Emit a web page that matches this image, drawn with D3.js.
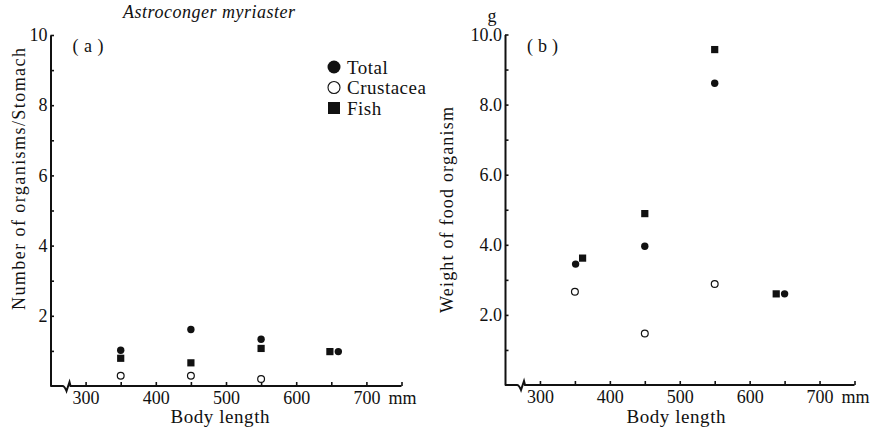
<!DOCTYPE html>
<html>
<head>
<meta charset="utf-8">
<script src="https://cdn.jsdelivr.net/npm/d3@7"></script>
<style>
  body { margin: 0; background: #fff; }
  svg text { font-family: "Liberation Serif", "Times New Roman", serif; fill: #111; }
</style>
</head>
<body>
<div id="chart"></div>
<script>
// (a) number of organisms per stomach
const totalA = [{len: 350, v: 1.02}, {len: 450, v: 1.61}, {len: 550, v: 1.33}, {len: 660, v: 0.98}];
const fishA  = [{len: 350, v: 0.79}, {len: 450, v: 0.66}, {len: 550, v: 1.07}, {len: 648, v: 0.98}];
const crustA = [{len: 350, v: 0.29}, {len: 450, v: 0.29}, {len: 550, v: 0.20}];

// (b) weight of food organism (g)
const totalB = [{len: 351, v: 3.45}, {len: 450, v: 3.96}, {len: 550, v: 8.61}, {len: 650, v: 2.60}];
const fishB  = [{len: 361, v: 3.62}, {len: 450, v: 4.89}, {len: 550, v: 9.57}, {len: 638, v: 2.60}];
const crustB = [{len: 350, v: 2.66}, {len: 450, v: 1.47}, {len: 550, v: 2.88}];

const xTicks = [300, 350, 400, 450, 500, 550, 600, 650, 700, 750];
const xLabels = [300, 400, 500, 600, 700];
const yTicks = [1, 2, 3, 4, 5, 6, 7, 8, 9, 10];
const yLabels = [2, 4, 6, 8, 10];
const legendItems = ["Total", "Crustacea", "Fish"];

const svg = d3.select("#chart").append("svg")
  .attr("width", 872)
  .attr("height", 430);

function drawPanel(opts) {
  const x = d3.scaleLinear().domain([250, 750]).range(opts.xRange);
  const y = d3.scaleLinear().domain([0, 10]).range(opts.yRange);
  const g = svg.append("g");
  const y0 = y(0);

  // x axis ticks (pointing up)
  const xAxis = d3.axisBottom(x)
    .tickValues(xTicks)
    .tickSizeInner(-4)
    .tickSizeOuter(0)
    .tickPadding(5)
    .tickFormat(d => xLabels.includes(d) ? d : "");
  const gx = g.append("g")
    .attr("transform", `translate(0,${y0})`)
    .call(xAxis);
  gx.select(".domain").remove();
  gx.selectAll(".tick line").attr("stroke", "#111").attr("stroke-width", 1.6);
  gx.selectAll(".tick text").attr("font-size", 18).attr("fill", "#111");

  // axis line with break
  const bx = x(250) + 12;
  g.append("path")
    .attr("d", `M${x(250)},${y0} L${bx},${y0} Q${bx + 2},${y0} ${bx + 4},${y0 + 5} L${bx + 7},${y0 - 4} L${bx + 8},${y0} L${x(750)},${y0}`)
    .attr("fill", "none").attr("stroke", "#111").attr("stroke-width", 2);

  g.append("text")
    .attr("x", x(700) + 22).attr("y", y0 + 18)
    .attr("font-size", 18).text("mm");

  // y axis (ticks pointing right)
  const yAxis = d3.axisLeft(y)
    .tickValues(yTicks)
    .tickSizeInner(-3.5)
    .tickSizeOuter(0)
    .tickPadding(3)
    .tickFormat(d => yLabels.includes(d) ? opts.fmt(d) : "");
  const gy = g.append("g")
    .attr("transform", `translate(${x(250)},0)`)
    .call(yAxis);
  gy.select(".domain").attr("stroke", "#111").attr("stroke-width", 2);
  gy.selectAll(".tick line").attr("stroke", "#111").attr("stroke-width", 1.6);
  gy.selectAll(".tick text").attr("font-size", 18).attr("fill", "#111");

  // axis titles
  g.append("text")
    .attr("x", opts.bodyX).attr("y", 423)
    .attr("text-anchor", "middle").attr("font-size", 19)
    .attr("textLength", 99).attr("lengthAdjust", "spacing")
    .text("Body length");
  g.append("text")
    .attr("transform", `translate(${opts.yTitleX},${opts.yTitleY}) rotate(-90)`)
    .attr("text-anchor", "middle").attr("font-size", 18)
    .attr("textLength", opts.yTitleLen).attr("lengthAdjust", "spacing")
    .text(opts.yTitle);

  g.append("text")
    .attr("x", x(250) + 22).attr("y", 52)
    .attr("font-size", 18).attr("textLength", 31).attr("lengthAdjust", "spacing")
    .text(opts.tag);

  // points
  g.selectAll(".crust").data(opts.crust).enter().append("circle")
    .attr("cx", d => x(d.len)).attr("cy", d => y(d.v)).attr("r", 3.4)
    .attr("fill", "#fff").attr("stroke", "#111").attr("stroke-width", 1.2);
  g.selectAll(".fish").data(opts.fish).enter().append("rect")
    .attr("x", d => x(d.len) - 3.6).attr("y", d => y(d.v) - 3.6)
    .attr("width", 7.2).attr("height", 7.2).attr("fill", "#111");
  g.selectAll(".total").data(opts.total).enter().append("circle")
    .attr("cx", d => x(d.len)).attr("cy", d => y(d.v)).attr("r", 3.7)
    .attr("fill", "#111");
}

drawPanel({
  xRange: [50.5, 401.5], yRange: [386, 35],
  fmt: d => d,
  total: totalA, fish: fishA, crust: crustA,
  tag: "( a )",
  bodyX: 220, yTitleX: 25, yTitleY: 179, yTitleLen: 262,
  yTitle: "Number of organisms/Stomach"
});

drawPanel({
  xRange: [505, 854.5], yRange: [385, 34.5],
  fmt: d3.format(".1f"),
  total: totalB, fish: fishB, crust: crustB,
  tag: "( b )",
  bodyX: 676, yTitleX: 453, yTitleY: 210, yTitleLen: 206,
  yTitle: "Weight of food organism"
});

// species title
svg.append("text")
  .attr("x", 209).attr("y", 18)
  .attr("text-anchor", "middle").attr("font-size", 18)
  .attr("font-style", "italic")
  .attr("textLength", 172).attr("lengthAdjust", "spacing")
  .text("Astroconger myriaster");

// unit label for (b)
svg.append("text")
  .attr("x", 492).attr("y", 22)
  .attr("text-anchor", "middle").attr("font-size", 18)
  .text("g");

// legend
const legend = svg.append("g").attr("transform", "translate(334,67)");
legendItems.forEach((name, i) => {
  const row = legend.append("g").attr("transform", `translate(0,${i * 20.5})`);
  if (name === "Total") {
    row.append("circle").attr("r", 6.5).attr("fill", "#111");
  } else if (name === "Crustacea") {
    row.append("circle").attr("r", 6).attr("fill", "#fff")
      .attr("stroke", "#111").attr("stroke-width", 1.1);
  } else {
    row.append("rect").attr("x", -6).attr("y", -6)
      .attr("width", 12).attr("height", 12).attr("fill", "#111");
  }
  row.append("text").attr("x", 13).attr("y", 6.5)
    .attr("font-size", 19).attr("letter-spacing", 0.5).text(name);
});
</script>
</body>
</html>
